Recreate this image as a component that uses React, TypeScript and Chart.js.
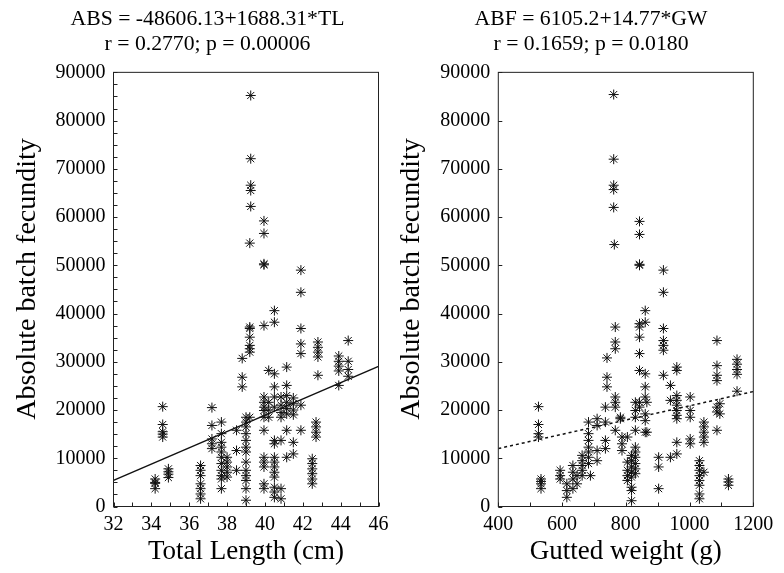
import React, { useEffect, useRef } from "react";
import { Chart, registerables } from "chart.js";

Chart.register(...registerables);

// ---------- Left panel: Total length (cm) vs absolute batch fecundity ----------
const leftTL = [
  34.2, 34.2, 34.2, 34.2,
  34.6, 34.6, 34.6, 34.6, 34.6,
  34.9, 34.9, 34.9, 34.9,
  36.6, 36.6, 36.6, 36.6, 36.6, 36.6, 36.6,
  37.2, 37.2, 37.2, 37.2, 37.2,
  37.7, 37.7, 37.7, 37.7, 37.7, 37.7, 37.7, 37.7, 37.7, 37.7, 37.7,
  38.0, 38.0, 38.0, 38.0, 38.0,
  38.5, 38.5, 38.5,
  38.8, 38.8, 38.8,
  39.0, 39.0, 39.0, 39.0, 39.0, 39.0, 39.0, 39.0, 39.0, 39.0, 39.0, 39.0, 39.0,
  39.2, 39.2, 39.2, 39.2, 39.2, 39.2, 39.2, 39.2,
  39.25, 39.25, 39.25, 39.25, 39.25,
  39.95, 39.95, 39.95, 39.95, 39.95, 39.95, 39.95, 39.95, 39.95, 39.95, 39.95, 39.95, 39.95, 39.95, 39.95, 39.95,
  40.2, 40.2, 40.2, 40.2,
  40.5, 40.5, 40.5, 40.5, 40.5, 40.5, 40.5, 40.5, 40.5, 40.5, 40.5, 40.5, 40.5, 40.5, 40.5, 40.5,
  40.85, 40.85, 40.85, 40.85, 40.85, 40.85, 40.85,
  41.15, 41.15, 41.15, 41.15, 41.15, 41.15, 41.15, 41.15,
  41.5, 41.5, 41.5, 41.5, 41.5, 41.5,
  41.9, 41.9, 41.9, 41.9, 41.9, 41.9, 41.9,
  42.5, 42.5, 42.5, 42.5, 42.5, 42.5,
  42.7, 42.7, 42.7, 42.7,
  42.8, 42.8, 42.8, 42.8, 42.8,
  43.9, 43.9, 43.9, 43.9, 43.9,
  44.4, 44.4, 44.4, 44.4,
];
const leftABF = [
  5700, 4800, 3700, 5000,
  20700, 17000, 15500, 15000, 14400,
  7800, 7200, 6700, 6000,
  8500, 7500, 6400, 4700, 3700, 2600, 1600,
  20500, 16800, 14000, 13000, 12000,
  17500, 15100, 13300, 12300, 11300, 10200, 8900, 7500, 6400, 5700, 3700,
  10200, 9200, 8200, 7100, 6100,
  15800, 11600, 7500,
  30700, 26800, 24800,
  18500, 17500, 16500, 15100, 13700, 12300, 11300, 9200, 7500, 6400, 5400, 3700, 1300,
  37200, 36900, 35100, 33400, 32700, 32000, 18500, 54600,
  85200, 72100, 66600, 65500, 62200,
  59200, 56600, 50300, 50100, 37500, 22700, 21600, 20600, 19900, 18500, 15800, 10200, 9200, 8200, 4700, 3700,
  28200, 21600, 20000, 18500,
  40600, 38200, 27500, 24800, 22700, 20600, 13700, 13000, 10200, 9200, 8200, 7100, 6100, 4000, 3000, 1900,
  22700, 21000, 19500, 18500, 13700, 3700, 1600,
  28900, 25100, 23000, 21600, 20300, 19200, 15800, 10200,
  22500, 21300, 20000, 19000, 13300, 10900,
  49000, 44400, 36900, 33700, 31700, 21000, 15800,
  9900, 8900, 7800, 6800, 5700, 4700,
  17500, 16500, 15400, 14400,
  34100, 33000, 32000, 31000, 27200,
  31200, 30100, 29100, 28100, 25100,
  34400, 30100, 28400, 27000,
];
// regression ABS = -48606.13 + 1688.31*TL, end points
const leftFitX = [32, 46];
const leftFitY = [5420, 29056];

// ---------- Right panel: Gutted weight (g) vs absolute batch fecundity ----------
const rightGW = [
  526, 526, 526, 526,
  534, 534, 534, 534,
  594, 594, 594,
  615, 615, 615,
  634, 634, 634, 634,
  647, 647,
  663, 663, 663, 663, 663,
  683, 683, 683, 683, 683, 683, 683,
  689,
  710, 710, 710, 710,
  736, 736, 736, 736,
  741, 741, 741,
  762, 762, 762, 762, 762,
  764,
  767, 767, 767, 767, 767, 767, 767,
  783, 783,
  788, 788, 788,
  805, 805, 805, 805, 805,
  818, 818, 818, 818, 818, 818, 818, 818,
  830, 830, 830, 830, 830, 830, 830, 830, 830, 830,
  843, 843, 843, 843, 843, 843, 843, 843, 843, 843, 843,
  861, 861, 861, 861, 861, 861, 861, 861,
  866, 866,
  903, 903, 903,
  918, 918, 918, 918, 918, 918, 918,
  940, 940, 940,
  960, 960, 960, 960, 960, 960, 960, 960, 960, 960,
  1002, 1002, 1002, 1002, 1002,
  1031, 1031, 1031, 1031, 1031, 1031, 1031, 1031,
  1045, 1045, 1045, 1045, 1045, 1045,
  1086, 1086, 1086, 1086, 1086, 1086, 1086,
  1095, 1095,
  1122, 1122, 1122,
  1149, 1149, 1149, 1149, 1149,
];
const rightABF = [
  20700, 17000, 15100, 14400,
  5700, 5200, 4700, 3700,
  7500, 6400, 5700,
  4700, 3300, 1900,
  8500, 7100, 5700, 3700,
  6400, 4700,
  10600, 9500, 8500, 7500, 6400,
  17500, 15100, 13700, 12300, 11300, 10200, 8900,
  6400,
  18200, 16800, 11600, 9500,
  20600, 17500, 13700, 12000,
  30800, 26800, 24800,
  85400, 72000, 66600, 65700, 62000,
  54300,
  37200, 34100, 32700, 22700, 21600, 20600, 15800,
  18500, 18200,
  14400, 13000, 11600,
  9200, 7500, 6400, 5400, 14400,
  10600, 9500, 8200, 7100, 6100, 4000, 1200, 3300,
  12300, 11300, 10200, 8900, 7800, 6800, 15800, 21600, 19900, 18500,
  59100, 56400, 50200, 50000, 37900, 37200, 35100, 31700, 28200, 21600, 20600,
  40600, 38200, 27500, 24800, 22700, 19200, 17800, 15400,
  21600, 15400,
  10200, 8200, 3700,
  49000, 44400, 36900, 34400, 33400, 32400, 27200,
  25100, 22000, 10200,
  28900, 28200, 23000, 22000, 21000, 19900, 18900, 18200, 13300, 10900,
  22700, 19900, 18500, 14000, 13000,
  9500, 8500, 7500, 6400, 5400, 4400, 2600, 1600,
  17500, 16500, 15400, 14400, 13300, 7100,
  34400, 29200, 27200, 26100, 20600, 19600, 15800,
  21300, 19200,
  5700, 5100, 4400,
  30500, 29500, 28400, 27400, 23900,
];
// regression ABF = 6105.2 + 14.77*GW, end points
const rightFitX = [400, 1200];
const rightFitY = [12013, 23829];

const FONT = "'Liberation Serif', 'Times New Roman', serif";

const frameTicks = {
  id: "frameTicks",
  afterLayout(chart: any, _args: any, opts: any) {
    const t = chart.titleBlock;
    if (t && opts.titleCenter != null) {
      t.left = 0;
      t.right = opts.titleCenter * 2;
      t.width = opts.titleCenter * 2;
    }
  },
  afterDraw(chart: any, _args: any, opts: any) {
    const { ctx, chartArea: a, scales } = chart;
    const x = scales.x;
    const y = scales.y;
    ctx.save();
    ctx.strokeStyle = "#222";
    ctx.lineWidth = 1;
    ctx.strokeRect(a.left, a.top, a.right - a.left, a.bottom - a.top);
    ctx.beginPath();
    for (let v = x.min; v <= x.max + 1e-9; v += opts.xMinor) {
      const px = Math.round(x.getPixelForValue(v)) + 0.5;
      ctx.moveTo(px, a.bottom);
      ctx.lineTo(px, a.bottom - 4);
    }
    for (let v = y.min; v <= y.max + 1e-9; v += opts.yMinor) {
      const py = Math.round(y.getPixelForValue(v)) + 0.5;
      ctx.moveTo(a.left, py);
      ctx.lineTo(a.left + 4, py);
    }
    ctx.stroke();
    ctx.restore();
  },
};

type PanelProps = {
  left: number;
  width: number;
  padRight: number;
  yWidth: number;
  titleCenter: number;
  title: string[];
  xTitle: string;
  xs: number[];
  ys: number[];
  fitX: number[];
  fitY: number[];
  xMin: number;
  xMax: number;
  xStep: number;
  xMinor: number;
  yMinor: number;
  dashed: boolean;
};

function Panel(p: PanelProps) {
  const ref = useRef<HTMLCanvasElement | null>(null);
  useEffect(() => {
    if (!ref.current) return;
    const pts = p.xs.map((x, i) => ({ x, y: p.ys[i] }));
    const fit = p.fitX.map((x, i) => ({ x, y: p.fitY[i] }));
    const chart = new Chart(ref.current, {
      type: "scatter",
      data: {
        datasets: [
          {
            data: fit,
            showLine: true,
            borderColor: "#111",
            borderWidth: 1.5,
            borderDash: p.dashed ? [3, 3] : [],
            pointRadius: 0,
            order: 2,
          } as any,
          {
            data: pts,
            pointStyle: "star",
            pointRadius: 5,
            borderColor: "#111",
            backgroundColor: "#111",
            borderWidth: 1,
            order: 1,
          } as any,
        ],
      },
      options: {
        responsive: false,
        animation: false,
        layout: { padding: { left: 0, right: p.padRight, top: 0, bottom: 0 } },
        plugins: {
          legend: { display: false },
          tooltip: { enabled: false },
          title: {
            display: true,
            text: p.title,
            color: "#000",
            font: { family: FONT, size: 21.7, weight: "normal", lineHeight: 1.16 },
            padding: { top: 6.5, bottom: 15.5 },
          },
          frameTicks: { xMinor: p.xMinor, yMinor: p.yMinor, titleCenter: p.titleCenter },
        } as any,
        scales: {
          x: {
            type: "linear",
            min: p.xMin,
            max: p.xMax,
            grid: { display: false, drawTicks: false },
            border: { display: false },
            ticks: {
              stepSize: p.xStep,
              color: "#000",
              font: { family: FONT, size: 20 },
              padding: 6,
              maxRotation: 0,
              autoSkip: false,
              callback: (v: any) => String(v),
            },
            title: {
              display: true,
              text: p.xTitle,
              color: "#000",
              font: { family: FONT, size: 27, lineHeight: 1.2 },
              padding: { top: 0, bottom: 5 },
            },
            afterFit: (s: any) => {
              s.height = 66.5;
            },
          },
          y: {
            type: "linear",
            min: 0,
            max: 90000,
            grid: { display: false, drawTicks: false },
            border: { display: false },
            ticks: {
              stepSize: 10000,
              color: "#000",
              font: { family: FONT, size: 20 },
              padding: 8,
              autoSkip: false,
              callback: (v: any) => String(v),
            },
            title: {
              display: true,
              text: "   Absolute batch fecundity",
              color: "#000",
              font: { family: FONT, size: 28, lineHeight: 1.2 },
              padding: { top: 11, bottom: 0 },
            },
            afterFit: (s: any) => {
              s.width = p.yWidth;
            },
          },
        },
      } as any,
      plugins: [frameTicks as any],
    });
    return () => chart.destroy();
  }, []);
  return (
    <canvas
      ref={ref}
      width={p.width}
      height={573}
      style={{ position: "absolute", left: p.left, top: 0 }}
    />
  );
}

export default function App() {
  return (
    <div
      style={{
        position: "fixed",
        left: 0,
        top: 0,
        width: 784,
        height: 573,
        background: "#fff",
        overflow: "hidden",
      }}
    >
      <Panel
        left={0}
        width={415}
        padRight={36.5}
        yWidth={113.5}
        titleCenter={207.5}
        title={["ABS = -48606.13+1688.31*TL", "r = 0.2770; p = 0.00006"]}
        xTitle="Total Length (cm)"
        xs={leftTL}
        ys={leftABF}
        fitX={leftFitX}
        fitY={leftFitY}
        xMin={32}
        xMax={46}
        xStep={2}
        xMinor={1}
        yMinor={2500}
        dashed={false}
      />
      <Panel
        left={384}
        width={400}
        padRight={30.7}
        yWidth={114.3}
        titleCenter={207}
        title={["ABF = 6105.2+14.77*GW", "r = 0.1659; p = 0.0180"]}
        xTitle="Gutted weight (g)"
        xs={rightGW}
        ys={rightABF}
        fitX={rightFitX}
        fitY={rightFitY}
        xMin={400}
        xMax={1200}
        xStep={200}
        xMinor={100}
        yMinor={10000}
        dashed={true}
      />
    </div>
  );
}
